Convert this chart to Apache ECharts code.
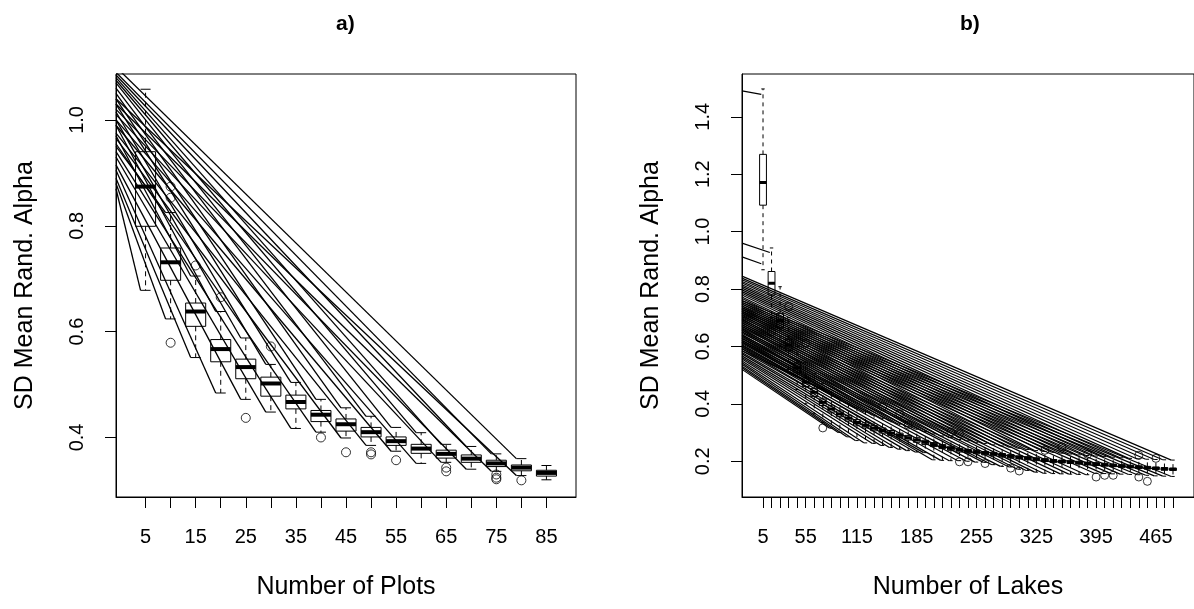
<!DOCTYPE html>
<html><head><meta charset="utf-8">
<script src="https://cdn.jsdelivr.net/npm/echarts@6/dist/echarts.min.js"></script>
<style>html,body{margin:0;padding:0;background:#fff}#c{width:1194px;height:609px}</style>
</head><body><div id="c"></div>
<script>
// ---------- Panel a) : Number of Plots ----------
const aX   = [5,10,15,20,25,30,35,40,45,50,55,60,65,70,75,80,85];
const aLo  = [0.678,0.624,0.551,0.484,0.472,0.448,0.417,0.410,0.399,0.385,0.374,0.351,0.353,0.340,0.336,0.328,0.320];
const aQ1  = [0.799,0.697,0.610,0.543,0.511,0.478,0.454,0.430,0.412,0.401,0.385,0.370,0.361,0.353,0.345,0.337,0.327];
const aMed = [0.874,0.731,0.638,0.567,0.533,0.502,0.467,0.443,0.425,0.410,0.393,0.379,0.369,0.360,0.351,0.343,0.333];
const aQ3  = [0.940,0.758,0.654,0.585,0.548,0.514,0.480,0.451,0.435,0.419,0.401,0.387,0.376,0.367,0.357,0.348,0.338];
const aHi  = [1.058,0.825,0.705,0.638,0.588,0.538,0.504,0.472,0.456,0.440,0.419,0.409,0.387,0.383,0.369,0.360,0.347];
const aOutX = [10,10,10,15,20,25,30,40,45,50,50,55,65,65,75,75,75,80];
const aOutY = [0.874,0.853,0.579,0.725,0.665,0.437,0.572,0.400,0.372,0.368,0.372,0.357,0.343,0.336,0.330,0.324,0.321,0.319];
// start values (at left plot edge) of lines running to each box's upper / lower whisker end
const aUpperStart = [null,0.950,0.970,0.990,1.000,1.015,1.030,1.040,1.050,1.060,1.070,1.075,1.080,1.085,1.090,1.100,null];
const aLowerStart = [0.870,0.880,0.890,0.905,0.915,0.930,0.940,0.955,0.965,0.975,0.990,1.000,1.010,1.020,1.030,1.040,null];
const aTickVals  = [5,10,15,20,25,30,35,40,45,50,55,60,65,70,75,80,85];
const aLabelVals = [5,15,25,35,45,55,65,75,85];
const aYTicks = [0.4,0.6,0.8,1.0];

// ---------- Panel b) : Number of Lakes ----------
const bX = [5,15,25,35,45,55,65,75,85,95,105,115,125,135,145,155,165,175,185,195,205,215,225,235,245,255,265,275,285,295,305,315,325,335,345,355,365,375,385,395,405,415,425,435,445,455,465,475,485];
const bLo  = [0.867,0.700,0.600,0.520,0.450,0.400,0.365,0.335,0.315,0.300,0.285,0.272,0.264,0.262,0.255,0.248,0.242,0.237,0.232,0.230,0.205,0.203,0.202,0.202,0.200,0.197,0.196,0.188,0.182,0.180,0.172,0.168,0.162,0.158,0.157,0.156,0.155,0.154,0.153,0.158,0.157,0.156,0.155,0.154,0.153,0.151,0.149,0.148,0.147];
const bQ1  = [1.092,0.779,0.665,0.585,0.508,0.460,0.426,0.394,0.371,0.355,0.340,0.326,0.316,0.306,0.298,0.290,0.282,0.274,0.266,0.258,0.251,0.244,0.238,0.232,0.229,0.226,0.222,0.219,0.215,0.211,0.208,0.205,0.202,0.199,0.196,0.194,0.192,0.190,0.187,0.185,0.183,0.181,0.179,0.177,0.175,0.173,0.171,0.169,0.168];
const bMed = [1.171,0.820,0.690,0.605,0.525,0.475,0.440,0.405,0.382,0.365,0.350,0.335,0.325,0.315,0.307,0.298,0.290,0.282,0.274,0.266,0.258,0.251,0.245,0.239,0.235,0.232,0.228,0.225,0.221,0.217,0.213,0.210,0.207,0.204,0.201,0.199,0.197,0.195,0.192,0.190,0.188,0.185,0.183,0.181,0.179,0.177,0.175,0.173,0.172];
const bQ3  = [1.269,0.861,0.715,0.625,0.542,0.490,0.454,0.417,0.393,0.375,0.360,0.345,0.334,0.324,0.316,0.307,0.298,0.290,0.282,0.273,0.265,0.258,0.252,0.245,0.241,0.238,0.234,0.231,0.227,0.223,0.219,0.216,0.212,0.209,0.206,0.204,0.202,0.200,0.197,0.195,0.193,0.190,0.188,0.186,0.184,0.182,0.180,0.178,0.176];
const bHi  = [1.497,0.943,0.808,0.700,0.600,0.545,0.505,0.470,0.440,0.420,0.400,0.385,0.372,0.360,0.350,0.340,0.330,0.320,0.312,0.303,0.295,0.288,0.282,0.276,0.271,0.266,0.262,0.257,0.253,0.249,0.245,0.241,0.237,0.234,0.231,0.228,0.225,0.222,0.220,0.218,0.216,0.214,0.212,0.210,0.208,0.207,0.206,0.205,0.204];
const bOutX = [15,35,55,75,145,165,175,225,235,235,245,265,295,305,335,355,385,395,405,415,445,445,455,465];
const bOutY = [0.651,0.739,0.611,0.316,0.390,0.366,0.326,0.302,0.296,0.198,0.198,0.192,0.176,0.166,0.238,0.250,0.224,0.145,0.151,0.151,0.221,0.145,0.130,0.210];
// lines to boxes 9..49 (x = 85..485): start values at left plot edge
const bUpperStart = [0.585,0.592,0.600,0.606,0.615,0.621,0.628,0.636,0.641,0.650,0.656,0.662,0.670,0.676,0.683,0.690,0.696,0.703,0.709,0.716,0.722,0.729,0.735,0.741,0.748,0.754,0.760,0.767,0.772,0.779,0.785,0.791,0.797,0.803,0.809,0.815,0.821,0.826,0.832,0.838,0.845];
const bLowerStart = [0.520,0.526,0.531,0.538,0.543,0.549,0.556,0.561,0.567,0.574,0.579,0.585,0.592,0.597,0.603,0.610,0.615,0.621,0.628,0.633,0.639,0.646,0.651,0.657,0.664,0.669,0.675,0.681,0.687,0.693,0.699,0.705,0.711,0.717,0.723,0.729,0.735,0.741,0.747,0.753,0.760];
const bFirstLineBox = 8; // index of box 85
const bExtraStart = [1.490,0.960,0.912];
const bExtraEndX  = [3,13,3];
const bExtraEndY  = [1.478,0.927,0.888];
const bTickVals  = bX;
const bLabelVals = [5,55,115,185,255,325,395,465];
const bYTicks = [0.2,0.4,0.6,0.8,1.0,1.2,1.4];

// ---------- axis ranges ----------
const aXMin = -0.9, aXMax = 90.9, aYMin = 0.2875, aYMax = 1.0868;
const bXMin = -19.6, bXMax = 509.6, bYMin = 0.0754, bYMax = 1.549;

const FONT = 'Liberation Sans';
const BLACK = '#000';

function boxRender(halfW, capHalf, medW, dash) {
  return function (params, api) {
    const x = api.value(0), lo = api.value(1), q1 = api.value(2), med = api.value(3), q3 = api.value(4), hi = api.value(5);
    const c = v => api.coord([x, v]);
    const cl = v => api.coord([x - capHalf, v]);
    const cr = v => api.coord([x + capHalf, v]);
    const tl = api.coord([x - halfW, q3]);
    const br = api.coord([x + halfW, q1]);
    const ml = api.coord([x - halfW, med]);
    const mr = api.coord([x + halfW, med]);
    const thin = { stroke: BLACK, lineWidth: 1, fill: 'none' };
    return {
      type: 'group',
      children: [
        { type: 'line', shape: { x1: c(q3)[0], y1: c(q3)[1], x2: c(hi)[0], y2: c(hi)[1] }, style: Object.assign({ lineDash: dash }, thin) },
        { type: 'line', shape: { x1: c(q1)[0], y1: c(q1)[1], x2: c(lo)[0], y2: c(lo)[1] }, style: Object.assign({ lineDash: dash }, thin) },
        { type: 'line', shape: { x1: cl(hi)[0], y1: cl(hi)[1], x2: cr(hi)[0], y2: cr(hi)[1] }, style: thin },
        { type: 'line', shape: { x1: cl(lo)[0], y1: cl(lo)[1], x2: cr(lo)[0], y2: cr(lo)[1] }, style: thin },
        { type: 'rect', shape: { x: tl[0], y: tl[1], width: br[0] - tl[0], height: br[1] - tl[1] }, style: thin },
        { type: 'line', shape: { x1: ml[0], y1: ml[1], x2: mr[0], y2: mr[1] }, style: { stroke: BLACK, lineWidth: medW } }
      ]
    };
  };
}

function seg(xi, x0, y0, x1, y1, w) {
  return {
    type: 'line', xAxisIndex: xi, yAxisIndex: xi,
    data: [[x0, y0], [x1, y1]], symbol: 'none', silent: true, animation: false,
    lineStyle: { color: BLACK, width: w }, z: 1, clip: true
  };
}

const series = [];
aX.forEach((x, i) => {
  if (aUpperStart[i] != null) series.push(seg(0, aXMin, aUpperStart[i], x - 1, aHi[i], 1.3));
  if (aLowerStart[i] != null) series.push(seg(0, aXMin, aLowerStart[i], x - 1, aLo[i], 1.3));
});
bUpperStart.forEach((s, j) => {
  const i = bFirstLineBox + j;
  series.push(seg(1, bXMin, s, bX[i] - 2, bHi[i], 1.2));
  series.push(seg(1, bXMin, bLowerStart[j], bX[i] - 2, bLo[i], 1.2));
});
bExtraStart.forEach((s, j) => series.push(seg(1, bXMin, s, bExtraEndX[j], bExtraEndY[j], 1.2)));

series.push({
  type: 'custom', xAxisIndex: 0, yAxisIndex: 0, z: 3, silent: true, animation: false,
  renderItem: boxRender(2, 1, 4, [5, 4]),
  encode: { x: 0, y: [1, 2, 3, 4, 5] },
  data: aX.map((x, i) => [x, aLo[i], aQ1[i], aMed[i], aQ3[i], aHi[i]])
});
series.push({
  type: 'custom', xAxisIndex: 1, yAxisIndex: 1, z: 3, silent: true, animation: false,
  renderItem: boxRender(4, 2, 3, [4, 4]),
  encode: { x: 0, y: [1, 2, 3, 4, 5] },
  data: bX.map((x, i) => [x, bLo[i], bQ1[i], bMed[i], bQ3[i], bHi[i]])
});
const outStyle = { color: 'rgba(0,0,0,0)', borderColor: BLACK, borderWidth: 1 };
series.push({ type: 'scatter', xAxisIndex: 0, yAxisIndex: 0, z: 4, silent: true, animation: false, symbol: 'circle', symbolSize: 9, itemStyle: outStyle, data: aOutX.map((x, i) => [x, aOutY[i]]) });
series.push({ type: 'scatter', xAxisIndex: 1, yAxisIndex: 1, z: 4, silent: true, animation: false, symbol: 'circle', symbolSize: 8, itemStyle: outStyle, data: bOutX.map((x, i) => [x, bOutY[i]]) });

function xAxis(gi, min, max, ticks, labels, name) {
  return {
    type: 'value', gridIndex: gi, min: min, max: max,
    axisLine: { show: true, onZero: false, lineStyle: { color: BLACK, width: 1 } },
    axisTick: { show: true, customValues: ticks, length: 11, lineStyle: { color: BLACK, width: 1 } },
    axisLabel: { customValues: labels, margin: 30, fontSize: 20, color: BLACK, fontFamily: FONT, hideOverlap: false },
    splitLine: { show: false },
    name: name, nameLocation: 'middle', nameGap: 78,
    nameTextStyle: { fontSize: 25, color: BLACK, fontFamily: FONT }
  };
}
function yAxis(gi, min, max, ticks, name) {
  return {
    type: 'value', gridIndex: gi, min: min, max: max,
    axisLine: { show: true, onZero: false, lineStyle: { color: BLACK, width: 1 } },
    axisTick: { show: true, customValues: ticks, length: 11, lineStyle: { color: BLACK, width: 1 } },
    axisLabel: { customValues: ticks, rotate: 90, margin: 29, fontSize: 20, color: BLACK, fontFamily: FONT, formatter: v => Number(v).toFixed(1) },
    splitLine: { show: false },
    name: name, nameLocation: 'middle', nameGap: 78, nameRotate: 90,
    nameTextStyle: { fontSize: 25, color: BLACK, fontFamily: FONT }
  };
}

const chart = echarts.init(document.getElementById('c'), null, { renderer: 'canvas' });
chart.setOption({
  backgroundColor: '#fff',
  animation: false,
  textStyle: { fontFamily: FONT },
  title: [
    { text: 'a)', left: 331, top: 9, textStyle: { fontSize: 21, fontWeight: 'bold', fontFamily: FONT, color: BLACK } },
    { text: 'b)', left: 955, top: 9, textStyle: { fontSize: 21, fontWeight: 'bold', fontFamily: FONT, color: BLACK } }
  ],
  grid: [
    { left: 116, top: 74, width: 460, height: 423, show: true, borderColor: BLACK, borderWidth: 1, backgroundColor: 'transparent' },
    { left: 742, top: 74, width: 459, height: 423, show: true, borderColor: BLACK, borderWidth: 1, backgroundColor: 'transparent' }
  ],
  xAxis: [
    xAxis(0, aXMin, aXMax, aTickVals, aLabelVals, 'Number of Plots'),
    xAxis(1, bXMin, bXMax, bTickVals, bLabelVals, 'Number of Lakes')
  ],
  yAxis: [
    yAxis(0, aYMin, aYMax, aYTicks, 'SD Mean Rand. Alpha'),
    yAxis(1, bYMin, bYMax, bYTicks, 'SD Mean Rand. Alpha')
  ],
  series: series
});
</script></body></html>
